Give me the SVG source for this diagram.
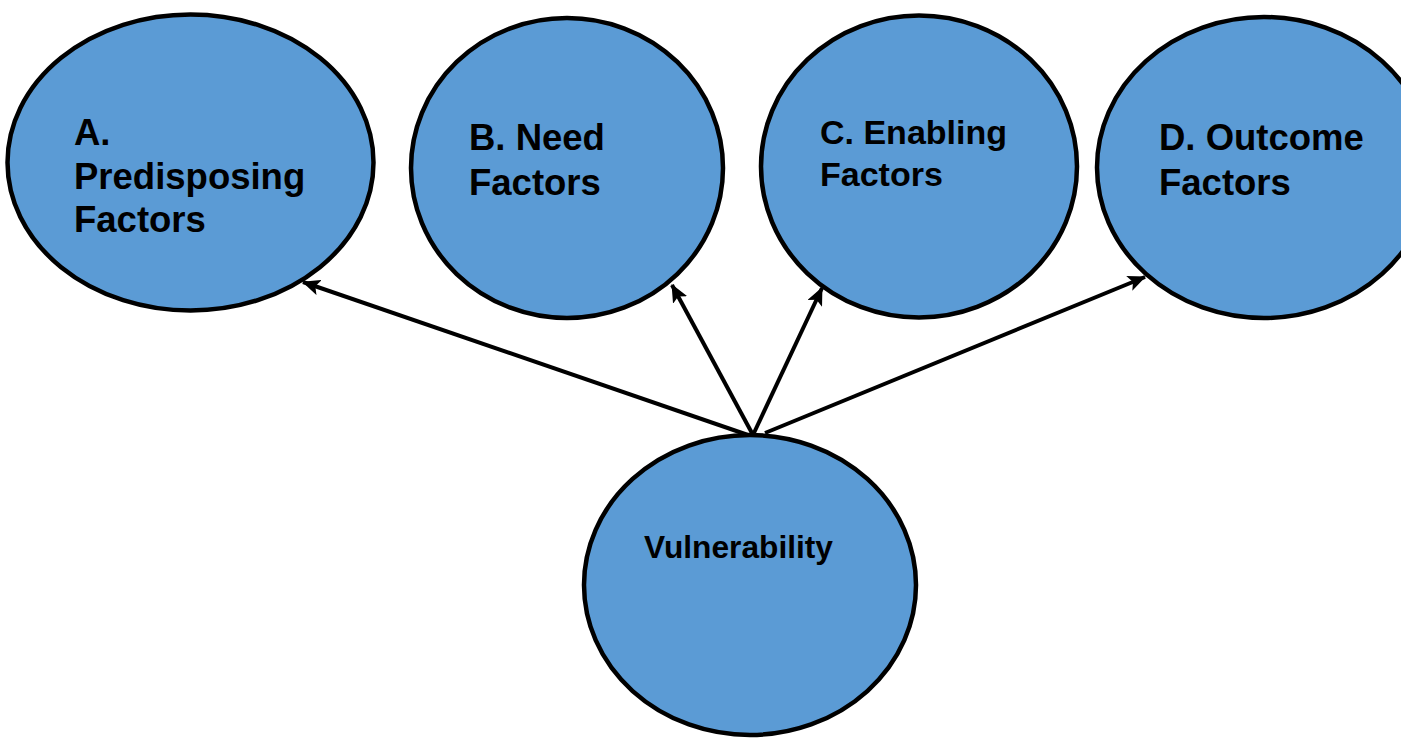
<svg xmlns="http://www.w3.org/2000/svg" width="1401" height="739" viewBox="0 0 1401 739">
<style>
.node{fill:#5B9BD5;stroke:#000;stroke-width:4.5}
.lbl{font-family:"Liberation Sans",Arial,sans-serif;font-weight:bold;font-size:36.5px;fill:#000}
.mid{font-size:34px}
.small{font-size:31.7px}
.conn{stroke:#000;stroke-width:4;fill:none;marker-end:url(#ah)}
</style>
<defs>
<marker id="ah" viewBox="0 0 18 16" refX="17" refY="8" markerWidth="18" markerHeight="16" orient="auto" markerUnits="userSpaceOnUse">
<path d="M0,0 L18,8 L0,16 L4,8 z" fill="#000"/>
</marker>
</defs>
<rect width="1401" height="739" fill="#fff"/>
<g id="nodeA">
<ellipse class="node" cx="190.5" cy="162.5" rx="183" ry="148"/>
<text class="lbl" x="74" y="145">A.</text>
<text class="lbl" x="74" y="189">Predisposing</text>
<text class="lbl" x="74" y="232">Factors</text>
</g>
<g id="nodeB">
<ellipse class="node" cx="567" cy="168" rx="156" ry="150"/>
<text class="lbl" x="469" y="150">B. Need</text>
<text class="lbl" x="469" y="195">Factors</text>
</g>
<g id="nodeC">
<ellipse class="node" cx="919" cy="166.5" rx="158" ry="151"/>
<text class="lbl mid" x="820" y="144">C. Enabling</text>
<text class="lbl mid" x="820" y="186">Factors</text>
</g>
<g id="nodeD">
<ellipse class="node" cx="1264" cy="167.5" rx="167" ry="150.5"/>
<text class="lbl" x="1159" y="150">D. Outcome</text>
<text class="lbl" x="1159" y="195">Factors</text>
</g>
<g id="nodeV">
<ellipse class="node" cx="750" cy="585" rx="166" ry="150"/>
<text class="lbl small" x="644" y="558">Vulnerability</text>
</g>
<g id="connectors">
<line class="conn" x1="748" y1="435" x2="303" y2="282"/>
<line class="conn" x1="753" y1="435" x2="672" y2="285"/>
<line class="conn" x1="753" y1="435" x2="822" y2="288"/>
<line class="conn" x1="765" y1="433" x2="1145" y2="277"/>
</g>
</svg>
